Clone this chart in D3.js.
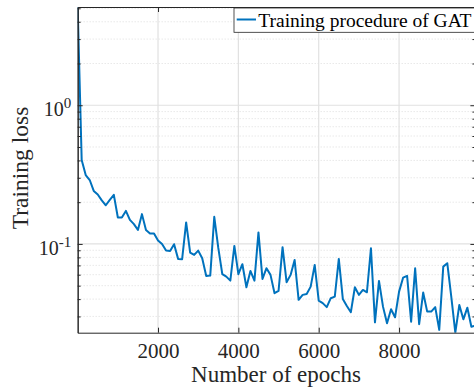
<!DOCTYPE html>
<html>
<head>
<meta charset="utf-8">
<script src="https://cdn.jsdelivr.net/npm/d3@7"></script>
<style>
  html, body { margin: 0; padding: 0; background: #fff; }
  svg { display: block; }
  text { font-family: "Liberation Serif", "Times New Roman", serif; }
</style>
</head>
<body>
<svg id="chart" width="474" height="387"></svg>
<script>
// ---- data ----
const epochs = [0,100,200,300,400,500,600,700,800,900,
  1000,1100,1200,1300,1400,1500,1600,1700,1800,1900,
  2000,2100,2200,2300,2400,2500,2600,2700,2800,2900,
  3000,3100,3200,3300,3400,3500,3600,3700,3800,3900,
  4000,4100,4200,4300,4400,4500,4600,4700,4800,4900,
  5000,5100,5200,5300,5400,5500,5600,5700,5800,5900,
  6000,6100,6200,6300,6400,6500,6600,6700,6800,6900,
  7000,7100,7200,7300,7400,7500,7600,7700,7800,7900,
  8000,8100,8200,8300,8400,8500,8600,8700,8800,8900,
  9000,9100,9200,9300,9400,9500,9600,9700,9800,9900];
const losses = [5.11, 0.403, 0.314, 0.289, 0.241, 0.227, 0.206, 0.190, 0.208, 0.226,
  0.155, 0.155, 0.173, 0.149, 0.139, 0.126, 0.164, 0.126, 0.119, 0.119,
  0.106, 0.100, 0.0895, 0.0890, 0.0995, 0.0780, 0.0776, 0.143, 0.0866, 0.0833,
  0.0895, 0.0788, 0.0588, 0.0591, 0.157, 0.0936, 0.0605, 0.0581, 0.0544, 0.0967,
  0.0605, 0.0714, 0.0487, 0.0639, 0.0544, 0.121, 0.0559, 0.0668, 0.0598, 0.0441,
  0.0458, 0.0947, 0.0530, 0.0598, 0.0767, 0.0395, 0.0429, 0.0436, 0.0492, 0.0706,
  0.0390, 0.0374, 0.0350, 0.0406, 0.0417, 0.0780, 0.0401, 0.0357, 0.0322, 0.0487,
  0.0429, 0.0466, 0.0448, 0.0931, 0.0272, 0.0541, 0.0353, 0.0268, 0.0338, 0.0296,
  0.0453, 0.0571, 0.0588, 0.0275, 0.0668, 0.0264, 0.0446, 0.0325, 0.0325, 0.0350,
  0.0240, 0.0686, 0.0726, 0.0415, 0.0229, 0.0363, 0.0286, 0.0347, 0.0253, 0.0258];
const xTicks = [2000, 4000, 6000, 8000];
const yMajorTicks = [0.1, 1];
const yMajorLabels = [["10", "-1"], ["10", "0"]];
const yMinorTicks = [0.03, 0.04, 0.05, 0.06, 0.07, 0.08, 0.09,
  0.2, 0.3, 0.4, 0.5, 0.6, 0.7, 0.8, 0.9, 2, 3, 4, 5];
const seriesName = "Training procedure of GAT";
const xLabel = "Number of epochs";
const yLabel = "Training loss";

// ---- layout ----
const L = 77.67, R = 475.4, T = 7, B = 332.7;
const axisColor = "#262626";
const lineColor = "#0072BD";

const svg = d3.select("#chart");
svg.append("rect").attr("width", 474).attr("height", 387).attr("fill", "#fff");

const x = d3.scaleLinear().domain([0, 9900]).range([L, R]);
const y = d3.scaleLog().domain(d3.extent(losses)).range([B, T]);

// grid
const grid = svg.append("g");
grid.selectAll(".ymin").data(yMinorTicks).join("line")
  .attr("x1", L).attr("x2", R).attr("y1", d => y(d)).attr("y2", d => y(d))
  .attr("stroke", "#d4d4d4").attr("stroke-width", 0.8).attr("stroke-dasharray", "1,2");
grid.selectAll(".ymaj").data(yMajorTicks).join("line")
  .attr("x1", L).attr("x2", R).attr("y1", d => y(d)).attr("y2", d => y(d))
  .attr("stroke", "#e1e1e1").attr("stroke-width", 1.2);
grid.selectAll(".xmaj").data(xTicks).join("line")
  .attr("x1", d => x(d)).attr("x2", d => x(d)).attr("y1", T).attr("y2", B)
  .attr("stroke", "#e1e1e1").attr("stroke-width", 1.2);

// line
svg.append("clipPath").attr("id", "clip").append("rect")
  .attr("x", L).attr("y", T).attr("width", R - L).attr("height", B - T);
svg.append("path")
  .datum(epochs.map((e, i) => [e, losses[i]]))
  .attr("clip-path", "url(#clip)")
  .attr("fill", "none").attr("stroke", lineColor).attr("stroke-width", 2)
  .attr("stroke-linejoin", "round")
  .attr("d", d3.line().x(d => x(d[0])).y(d => y(d[1])));

// axes
function styleAxis(g) {
  g.select(".domain").attr("stroke", axisColor).attr("stroke-width", 1);
  g.selectAll(".tick line").attr("stroke", axisColor).attr("stroke-width", 1);
}
const xb = svg.append("g").attr("transform", `translate(0,${B})`)
  .call(d3.axisBottom(x).tickValues(xTicks).tickSizeInner(-5).tickSizeOuter(0).tickFormat(d3.format("d")));
styleAxis(xb);
xb.selectAll(".tick text").attr("y", 25.3).attr("dy", null)
  .attr("font-size", 21).attr("fill", axisColor)
  .attr("font-family", "'Liberation Serif', 'Times New Roman', serif");

const xt = svg.append("g").attr("transform", `translate(0,${T})`)
  .call(d3.axisTop(x).tickValues(xTicks).tickSizeInner(-5).tickSizeOuter(0).tickFormat(""));
styleAxis(xt);

const yl = svg.append("g").attr("transform", `translate(${L},0)`)
  .call(d3.axisLeft(y).tickValues(yMajorTicks).tickSizeInner(-5).tickSizeOuter(0).tickFormat(""));
styleAxis(yl);
yl.selectAll(".tick text").each(function(d, i) {
  const t = d3.select(this).text(null)
    .attr("x", -6.5).attr("y", 10.7).attr("dy", null)
    .attr("text-anchor", "end").attr("fill", axisColor)
    .attr("font-family", "'Liberation Serif', 'Times New Roman', serif");
  const lab = yMajorLabels[yMajorTicks.indexOf(d)];
  t.append("tspan").attr("font-size", 20).text(lab[0]);
  t.append("tspan").attr("font-size", 15).attr("dy", -8.5).text(lab[1]);
});
const ylm = svg.append("g").attr("transform", `translate(${L},0)`)
  .call(d3.axisLeft(y).tickValues(yMinorTicks).tickSizeInner(-3).tickSizeOuter(0).tickFormat(""));
styleAxis(ylm);

const yr = svg.append("g").attr("transform", `translate(${R},0)`)
  .call(d3.axisRight(y).tickValues(yMajorTicks).tickSizeInner(-5).tickSizeOuter(0).tickFormat(""));
styleAxis(yr);
const yrm = svg.append("g").attr("transform", `translate(${R},0)`)
  .call(d3.axisRight(y).tickValues(yMinorTicks).tickSizeInner(-3).tickSizeOuter(0).tickFormat(""));
styleAxis(yrm);

// axis labels
svg.append("text").attr("x", (L + R) / 2 - 0.5).attr("y", 381.5)
  .attr("text-anchor", "middle").attr("font-size", 23).attr("fill", axisColor)
  .text(xLabel);
svg.append("text").attr("transform", `translate(28,168) rotate(-90)`)
  .attr("text-anchor", "middle").attr("font-size", 23.5).attr("fill", axisColor)
  .text(yLabel);

// legend
const lg = svg.append("g");
lg.append("rect").attr("x", 234).attr("y", 8).attr("width", 260).attr("height", 24.3)
  .attr("fill", "#fff").attr("stroke", axisColor).attr("stroke-width", 0.8);
lg.append("line").attr("x1", 236.7).attr("x2", 256).attr("y1", 19.5).attr("y2", 19.5)
  .attr("stroke", lineColor).attr("stroke-width", 2);
lg.append("text").attr("x", 258.3).attr("y", 26.7).attr("font-size", 19.5).attr("fill", "#000")
  .text(seriesName);
</script>
</body>
</html>
